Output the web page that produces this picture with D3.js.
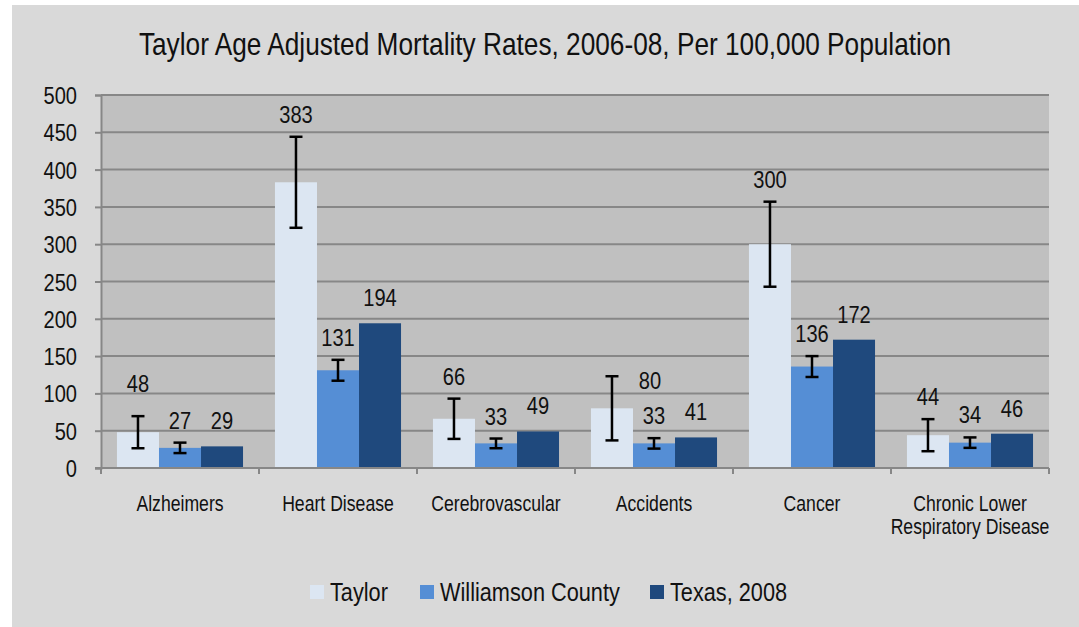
<!DOCTYPE html>
<html>
<head>
<meta charset="utf-8">
<script src="https://cdn.jsdelivr.net/npm/d3@7"></script>
<style>
  html, body { margin: 0; padding: 0; background: #ffffff; }
  svg { display: block; }
  text { font-family: "Liberation Sans", Arial, sans-serif; fill: #111; }
</style>
</head>
<body>
<svg id="chart"></svg>
<script>
// data
var categories = ["Alzheimers", "Heart Disease", "Cerebrovascular", "Accidents", "Cancer", "Chronic Lower|Respiratory Disease"];
var seriesNames = ["Taylor", "Williamson County", "Texas, 2008"];
var taylor = [48, 383, 66, 80, 300, 44];
var williamson = [27, 131, 33, 33, 136, 34];
var texas = [29, 194, 49, 41, 172, 46];
var taylorErr = [21.5, 61, 27, 43, 57, 21.5];
var williamsonErr = [7, 14, 6.5, 7, 14, 7];
var yTicks = [0, 50, 100, 150, 200, 250, 300, 350, 400, 450, 500];

var colors = ["#dce6f2", "#558ed5", "#1f497d"];
var NARROW = 0.82;   // Liberation Sans squeezed to look like Arial Narrow

var width = 1079, height = 627;
var plot = {left: 101, right: 1049, top: 95, bottom: 468};

// squeeze text horizontally, keeping its anchor x in place
function narrow(sel) {
  sel.each(function() {
    var t = d3.select(this);
    var x = +t.attr("x") || 0;
    t.attr("x", x / NARROW).attr("transform", "scale(" + NARROW + ",1)");
    t.selectAll("tspan").each(function() {
      var s = d3.select(this);
      if (s.attr("x") != null) s.attr("x", +s.attr("x") / NARROW);
    });
  });
}

var svg = d3.select("#chart").attr("width", width).attr("height", height);

// outer chart area
svg.append("rect").attr("x", 12).attr("y", 5).attr("width", width - 12).attr("height", height - 5)
  .attr("fill", "#d9d9d9");

// plot area
svg.append("rect").attr("x", plot.left).attr("y", plot.top)
  .attr("width", plot.right - plot.left).attr("height", plot.bottom - plot.top)
  .attr("fill", "#c0c0c0");

var table = categories.map(function(c, i) {
  return {cat: c, i: i, vals: [
    {s: 0, c: i, v: taylor[i], e: taylorErr[i]},
    {s: 1, c: i, v: williamson[i], e: williamsonErr[i]},
    {s: 2, c: i, v: texas[i], e: null}
  ]};
});

var x = d3.scaleBand().domain(categories).range([plot.left, plot.right]).padding(0);
var xInner = d3.scaleBand().domain([0, 1, 2]).range([0, x.bandwidth()]).paddingInner(0).paddingOuter(0.38);
var y = d3.scaleLinear().domain([0, 500]).range([plot.bottom, plot.top]);

// gridlines
svg.append("g").selectAll("line").data(yTicks.slice(1)).enter().append("line")
  .attr("x1", plot.left).attr("x2", plot.right)
  .attr("y1", d => y(d)).attr("y2", d => y(d))
  .attr("stroke", "#878787").attr("stroke-width", 2);

// y axis
var yAxis = svg.append("g").attr("transform", "translate(" + plot.left + ",0)")
  .call(d3.axisLeft(y).tickValues(yTicks).tickSize(6).tickPadding(18));
yAxis.attr("font-family", null);
yAxis.select(".domain").attr("stroke", "#878787").attr("stroke-width", 2);
yAxis.selectAll(".tick line").attr("stroke", "#878787").attr("stroke-width", 2);
yAxis.selectAll(".tick text").attr("font-size", 24.5).attr("dy", "0.35em").call(narrow);

// bars
var groups = svg.append("g").selectAll("g").data(table).enter().append("g")
  .attr("transform", d => "translate(" + x(d.cat) + ",0)");

groups.selectAll("rect").data(d => d.vals).enter().append("rect")
  .attr("x", d => xInner(d.s))
  .attr("width", xInner.bandwidth())
  .attr("y", d => y(d.v))
  .attr("height", d => y(0) - y(d.v))
  .attr("fill", d => colors[d.s]);

// error bars
var errs = groups.selectAll("g.err").data(d => d.vals.filter(v => v.e != null)).enter().append("g").attr("class", "err");
var cap = 6.5;
errs.append("line")
  .attr("x1", d => xInner(d.s) + xInner.bandwidth() / 2).attr("x2", d => xInner(d.s) + xInner.bandwidth() / 2)
  .attr("y1", d => y(d.v + d.e)).attr("y2", d => y(d.v - d.e))
  .attr("stroke", "#000").attr("stroke-width", 2.5);
errs.selectAll("line.cap").data(d => [d.v + d.e, d.v - d.e].map(t => ({s: d.s, t: t}))).enter().append("line")
  .attr("class", "cap")
  .attr("x1", d => xInner(d.s) + xInner.bandwidth() / 2 - cap).attr("x2", d => xInner(d.s) + xInner.bandwidth() / 2 + cap)
  .attr("y1", d => y(d.t)).attr("y2", d => y(d.t))
  .attr("stroke", "#000").attr("stroke-width", 2.5);

// value labels sit above the error bar (or the bar); a couple were moved by hand in the original
var labelNudge = {"0-0": [0, -10], "3-0": [38, 0]};
groups.selectAll("text.val").data(d => d.vals).enter().append("text")
  .attr("class", "val")
  .attr("x", d => xInner(d.s) + xInner.bandwidth() / 2 + (labelNudge[d.c + "-" + d.s] || [0, 0])[0])
  .attr("y", function(d) {
    var n = labelNudge[d.c + "-" + d.s] || [0, 0];
    if (d.c === 3 && d.s === 0) return y(d.v) - 19 + n[1];
    return (d.e != null ? y(d.v + d.e) - 14 : y(d.v) - 17) + n[1];
  })
  .attr("text-anchor", "middle")
  .attr("font-size", 24.5)
  .text(d => d.v)
  .call(narrow);

// x axis line and ticks
var xAxis = svg.append("g").attr("transform", "translate(0," + plot.bottom + ")");
xAxis.append("line").attr("x1", plot.left - 6).attr("x2", plot.right).attr("y1", 0).attr("y2", 0)
  .attr("stroke", "#878787").attr("stroke-width", 2);
xAxis.selectAll("line.tk").data(categories.concat(["end"])).enter().append("line")
  .attr("class", "tk")
  .attr("x1", (d, i) => plot.left + i * x.step()).attr("x2", (d, i) => plot.left + i * x.step())
  .attr("y1", 0).attr("y2", 6)
  .attr("stroke", "#878787").attr("stroke-width", 2);

var xl = xAxis.selectAll("text.cat").data(categories).enter().append("text")
  .attr("class", "cat")
  .attr("x", d => x(d) + x.bandwidth() / 2)
  .attr("y", 43)
  .attr("text-anchor", "middle")
  .attr("font-size", 21.5);
xl.selectAll("tspan").data(d => d.split("|")).enter().append("tspan")
  .attr("x", function() { return d3.select(this.parentNode).attr("x"); })
  .attr("dy", (d, i) => i === 0 ? 0 : 23)
  .text(d => d);
xl.call(narrow);

// title
svg.append("text").attr("x", 545).attr("y", 55).attr("text-anchor", "middle")
  .attr("font-size", 32)
  .text("Taylor Age Adjusted Mortality Rates, 2006-08, Per 100,000 Population")
  .call(narrow);

// legend
var legendX = [310, 420, 650];
var legend = svg.append("g").selectAll("g").data(seriesNames).enter().append("g")
  .attr("transform", (d, i) => "translate(" + legendX[i] + ",585)");
legend.append("rect").attr("width", 14).attr("height", 14).attr("fill", (d, i) => colors[i]);
legend.append("text").attr("x", 20).attr("y", 16).attr("font-size", 26.5).text(d => d).call(narrow);
</script>
</body>
</html>
